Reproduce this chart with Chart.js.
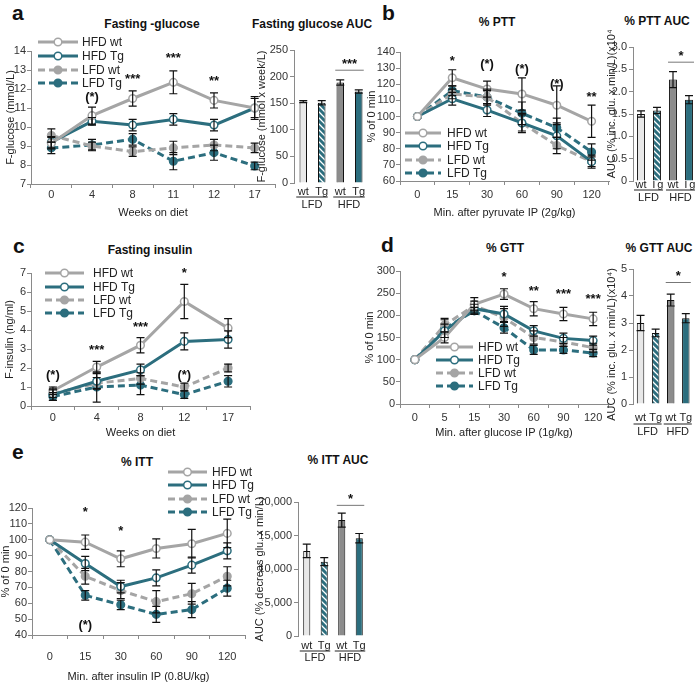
<!DOCTYPE html>
<html>
<head>
<meta charset="utf-8">
<script src="https://cdn.jsdelivr.net/npm/chart.js@4.4.1/dist/chart.umd.min.js"></script>
<style>
body { margin: 0; background: #fff; width: 700px; height: 685px; position: relative; overflow: hidden; font-family: "Liberation Sans", Arial, sans-serif; }
canvas { position: absolute; }
.lab { position: absolute; font-weight: bold; font-size: 21px; color: #111; line-height: 1; }
.ttl { position: absolute; font-weight: bold; font-size: 12px; color: #111; transform: translate(-50%, -50%); white-space: nowrap; }
</style>
</head>
<body>
<div class="lab" style="left:12px;top:2px">a</div>
<div class="ttl" style="left:152px;top:24px">Fasting -glucose</div>
<div class="ttl" style="left:312px;top:24px">Fasting glucose AUC</div>
<div class="lab" style="left:382px;top:2px">b</div>
<div class="ttl" style="left:497px;top:22px">% PTT</div>
<div class="ttl" style="left:657px;top:21px">% PTT AUC</div>
<div class="lab" style="left:13px;top:235px">c</div>
<div class="ttl" style="left:150px;top:250px">Fasting insulin</div>
<div class="lab" style="left:381px;top:234px">d</div>
<div class="ttl" style="left:505px;top:248px">% GTT</div>
<div class="ttl" style="left:659px;top:248px">% GTT AUC</div>
<div class="lab" style="left:12px;top:441px">e</div>
<div class="ttl" style="left:137px;top:462px">% ITT</div>
<div class="ttl" style="left:338px;top:460px">% ITT AUC</div>

<canvas id="glucLine"></canvas>
<canvas id="glucBar"></canvas>
<canvas id="pttLine"></canvas>
<canvas id="pttBar"></canvas>
<canvas id="insLine"></canvas>
<canvas id="gttLine"></canvas>
<canvas id="gttBar"></canvas>
<canvas id="ittLine"></canvas>
<canvas id="ittBar"></canvas>

<script>
var FONT = '"Liberation Sans", Arial, sans-serif';
var GRAY = '#a5a5a5';
var TEAL = '#2c6e7e';
var AXIS = '#8a8a8a';
var INK = '#222';

var seriesNames = ['HFD wt', 'HFD Tg', 'LFD wt', 'LFD Tg'];
var barLabels = ['wt', 'Tg', 'wt', 'Tg'];
var barGroups = ['LFD', 'HFD'];

// a - fasting glucose (mmol/L)
var glucWeeks = ['0', '4', '8', '11', '12', '17'];
var glucMean = [
    [9.15, 10.6, 11.5, 12.35, 11.4, 11.0],
    [9.2, 10.3, 10.1, 10.4, 10.1, 11.0],
    [9.55, 9.0, 8.7, 8.9, 9.05, 8.9],
    [8.9, 9.05, 9.35, 8.2, 8.65, 7.95]
];
var glucErr = [
    [0.3, 0.45, 0.4, 0.6, 0.4, 0.6],
    [0.3, 0.2, 0.3, 0.3, 0.3, 0.5],
    [0.35, 0.2, 0.25, 0.35, 0.3, 0.25],
    [0.3, 0.3, 0.3, 0.45, 0.4, 0.2]
];
var glucStars = [[1, 11.55, '(*)'], [2, 12.5, '***'], [3, 13.6, '***'], [4, 12.4, '**']];
var glucAuc = [153, 151, 189, 172];
var glucAucErr = [2, 4, 5, 3];
var glucAucSig = [2, 3, 212, '***'];

// b - pyruvate tolerance (% of 0 min)
var pttMin = ['0', '15', '30', '60', '90', '120'];
var pttMean = [
    [100, 124, 117, 114, 107, 97],
    [100, 111, 104, 96, 88, 72],
    [100, 114, 112, 96, 82, 72],
    [100, 116, 112, 102, 93, 78]
];
var pttErr = [
    [0, 5, 5, 10, 12, 10],
    [0, 4, 4, 6, 8, 4],
    [0, 3, 4, 5, 5, 3],
    [0, 3, 5, 7, 6, 5]
];
var pttStars = [[1, 134, '*'], [2, 132, '(*)'], [3, 129, '(*)'], [4, 120, '(*)'], [5, 112, '**']];
var pttAuc = [1.5, 1.58, 2.27, 1.82];
var pttAucErr = [0.07, 0.07, 0.18, 0.09];
var pttAucSig = [2, 3, 2.66, '*'];

// c - fasting insulin (ng/ml)
var insWeeks = ['0', '4', '8', '12', '17'];
var insMean = [
    [0.8, 2.05, 3.2, 5.5, 4.1],
    [0.6, 1.3, 1.9, 3.4, 3.5],
    [0.65, 1.2, 1.45, 1.0, 2.0],
    [0.5, 1.0, 1.1, 0.6, 1.3]
];
var insErr = [
    [0.2, 0.3, 0.4, 0.9, 0.5],
    [0.3, 0.4, 0.3, 0.45, 0.45],
    [0.2, 0.3, 0.3, 0.2, 0.2],
    [0.2, 0.8, 0.5, 0.2, 0.3]
];
var insStars = [[0, 1.6, '(*)'], [1, 2.95, '***'], [2, 4.15, '***'], [3, 7.0, '*'], [3, 1.6, '(*)']];

// d - glucose tolerance (% of 0 min)
var gttMin = ['0', '5', '15', '30', '60', '90', '120'];
var gttMean = [
    [100, 150, 225, 248, 215, 203, 192],
    [100, 165, 215, 203, 165, 148, 143],
    [100, 178, 222, 195, 150, 140, 127],
    [100, 170, 210, 172, 122, 122, 115]
];
var gttErr = [
    [0, 12, 15, 12, 16, 15, 15],
    [0, 15, 10, 17, 12, 12, 10],
    [0, 15, 10, 20, 15, 10, 10],
    [0, 20, 8, 12, 10, 8, 8]
];
var gttStars = [[3, 285, '*'], [4, 253, '**'], [5, 247, '***'], [6, 237, '***']];
var gttAuc = [3.0, 2.63, 3.85, 3.18];
var gttAucErr = [0.28, 0.14, 0.22, 0.17];
var gttAucSig = [2, 3, 4.5, '*'];

// e - insulin tolerance (% of 0 min)
var ittMin = ['0', '15', '30', '60', '90', '120'];
var ittMean = [
    [100, 98.5, 88, 94.5, 97.5, 104],
    [100, 85, 70.5, 76, 84, 93],
    [100, 77, 68, 61, 66, 77],
    [100, 65, 59, 53, 56, 69.5]
];
var ittErr = [
    [0, 4.5, 5, 6, 9, 9],
    [0, 4.5, 4, 5, 5, 5],
    [0, 5, 5, 7, 6.5, 6],
    [0, 3, 3, 5, 5, 5]
];
var ittStars = [[1, 117, '*'], [2, 105, '*'], [1, 46, '(*)']];
var ittAuc = [12700, 11100, 17300, 14600];
var ittAucErr = [1000, 600, 1050, 700];
var ittAucSig = [2, 3, 19500, '*'];

var seriesStyle = [
    {color: GRAY, dash: [], fill: '#fff'},
    {color: TEAL, dash: [], fill: '#fff'},
    {color: GRAY, dash: [7, 4], fill: GRAY},
    {color: TEAL, dash: [7, 4], fill: TEAL}
];

// 대각선 빗금 패턴 (LFD Tg 막대)
function hatch(color) {
    var c = document.createElement('canvas');
    c.width = 6; c.height = 6;
    var g = c.getContext('2d');
    g.fillStyle = color;
    g.fillRect(0, 0, 6, 6);
    g.strokeStyle = '#fff';
    g.lineWidth = 1.3;
    g.beginPath();
    g.moveTo(0, 0); g.lineTo(6, 6);
    g.moveTo(5, -1); g.lineTo(7, 1);
    g.moveTo(-1, 5); g.lineTo(1, 7);
    g.stroke();
    return g.createPattern(c, 'repeat');
}

function placeCanvas(id, b) {
    var cv = document.getElementById(id);
    cv.width = b.w; cv.height = b.h;
    cv.style.left = b.x + 'px'; cv.style.top = b.y + 'px';
    cv.style.width = b.w + 'px'; cv.style.height = b.h + 'px';
    return cv;
}

function whisker(ctx, x, y1, y2) {
    ctx.beginPath();
    ctx.moveTo(x, y1); ctx.lineTo(x, y2);
    ctx.moveTo(x - 4, y1); ctx.lineTo(x + 4, y1);
    ctx.moveTo(x - 4, y2); ctx.lineTo(x + 4, y2);
    ctx.stroke();
}

function drawYTitle(ctx, chart, p) {
    var ca = chart.chartArea;
    ctx.save();
    ctx.translate(p.yTitleX - p.box.x, (ca.top + ca.bottom) / 2 + (p.yTitleShift || 0));
    ctx.rotate(-Math.PI / 2);
    ctx.font = '11px ' + FONT;
    ctx.fillStyle = INK;
    ctx.textAlign = 'center';
    ctx.textBaseline = 'middle';
    ctx.fillText(p.yTitle, 0, 0);
    ctx.restore();
}

function lineExtras(p) {
    return {
        id: 'lineExtras',
        afterDatasetsDraw: function(chart) {
            var ctx = chart.ctx, ys = chart.scales.y;
            ctx.save();
            ctx.strokeStyle = '#111';
            ctx.lineWidth = 1.2;
            p.err.forEach(function(errs, k) {
                var meta = chart.getDatasetMeta(k);
                errs.forEach(function(e, j) {
                    if (!e) return;
                    var v = p.mean[k][j];
                    whisker(ctx, meta.data[j].x, ys.getPixelForValue(v + e), ys.getPixelForValue(v - e));
                });
            });
            ctx.restore();
        },
        afterDraw: function(chart) {
            var ctx = chart.ctx, xs = chart.scales.x, ys = chart.scales.y;
            ctx.save();
            // 유의성 표시
            ctx.font = 'bold 13px ' + FONT;
            ctx.fillStyle = '#111';
            ctx.textAlign = 'center';
            ctx.textBaseline = 'middle';
            p.stars.forEach(function(s) {
                ctx.fillText(s[2], xs.getPixelForValue(s[0]), ys.getPixelForValue(s[1]));
            });
            // 범례
            var L = p.legend;
            seriesNames.forEach(function(name, k) {
                var st = seriesStyle[k];
                var y = L.rows[k] - p.box.y, x1 = L.x1 - p.box.x, x2 = L.x2 - p.box.x;
                ctx.strokeStyle = st.color;
                ctx.lineWidth = 3;
                ctx.setLineDash(st.dash);
                ctx.beginPath();
                ctx.moveTo(x1, y); ctx.lineTo(x2, y);
                ctx.stroke();
                ctx.setLineDash([]);
                ctx.beginPath();
                ctx.arc((x1 + x2) / 2, y, 3.8, 0, Math.PI * 2);
                ctx.fillStyle = st.fill;
                ctx.fill();
                ctx.lineWidth = 1.5;
                ctx.stroke();
                ctx.font = '12px ' + FONT;
                ctx.fillStyle = INK;
                ctx.textAlign = 'left';
                ctx.fillText(name, L.tx - p.box.x, y + 0.5);
            });
            ctx.restore();
            drawYTitle(ctx, chart, p);
        }
    };
}

function linePanel(p) {
    var b = p.box, a = p.plot;
    var cv = placeCanvas(p.id, b);
    var datasets = p.mean.map(function(vals, k) {
        var st = seriesStyle[k];
        return {
            label: seriesNames[k],
            data: vals,
            borderColor: st.color,
            borderWidth: 3,
            borderDash: st.dash,
            pointRadius: 3.8,
            pointBorderWidth: 1.5,
            pointBorderColor: st.color,
            pointBackgroundColor: st.fill,
            tension: 0,
            fill: false
        };
    });
    var yw = a.l - b.x, xh = b.y + b.h - a.b;
    new Chart(cv, {
        type: 'line',
        data: {labels: p.labels, datasets: datasets},
        options: {
            responsive: false,
            animation: false,
            devicePixelRatio: 1,
            layout: {autoPadding: false, padding: {top: a.t - b.y, right: b.x + b.w - a.r, left: 0, bottom: 0}},
            plugins: {legend: {display: false}, tooltip: {enabled: false}},
            scales: {
                x: {
                    type: 'category',
                    offset: true,
                    grid: {offset: true, drawOnChartArea: false, tickLength: 4, color: AXIS},
                    border: {color: AXIS},
                    ticks: {color: '#333', font: {size: 11, family: FONT}, padding: p.labelY - a.b - 4 - 6.6, maxRotation: 0, autoSkip: false},
                    title: {display: true, text: p.xTitle, color: INK, font: {size: 11, family: FONT},
                            padding: {top: 0, bottom: (b.y + b.h) - p.xTitleY - 6.6}},
                    afterFit: function(s) { s.height = xh; }
                },
                y: {
                    min: p.yMin, max: p.yMax,
                    grid: {drawOnChartArea: false, tickLength: 4, color: AXIS},
                    border: {color: AXIS},
                    ticks: {stepSize: p.yStep, color: '#333', font: {size: 11, family: FONT}, padding: 1, autoSkip: false},
                    afterFit: function(s) { s.width = yw; }
                }
            }
        },
        plugins: [lineExtras(p)]
    });
}

function barExtras(p) {
    return {
        id: 'barExtras',
        afterDatasetsDraw: function(chart) {
            var ctx = chart.ctx, xs = chart.scales.x, ys = chart.scales.y;
            ctx.save();
            ctx.strokeStyle = '#111';
            ctx.lineWidth = 1.2;
            p.values.forEach(function(v, j) {
                whisker(ctx, xs.getPixelForValue(j), ys.getPixelForValue(v + p.err[j]), ys.getPixelForValue(v - p.err[j]));
            });
            // 유의성 선
            var s = p.sig;
            var sy = ys.getPixelForValue(s[2]);
            var sx1 = xs.getPixelForValue(s[0]) - 5, sx2 = xs.getPixelForValue(s[1]) + 5;
            ctx.strokeStyle = '#777';
            ctx.lineWidth = 1;
            ctx.beginPath();
            ctx.moveTo(sx1, sy); ctx.lineTo(sx2, sy);
            ctx.stroke();
            ctx.font = 'bold 13px ' + FONT;
            ctx.fillStyle = '#111';
            ctx.textAlign = 'center';
            ctx.textBaseline = 'middle';
            ctx.fillText(s[3], (sx1 + sx2) / 2, sy - 6);
            // 그룹 라벨
            barGroups.forEach(function(g, k) {
                var gx1 = xs.getPixelForValue(2 * k) - 7, gx2 = xs.getPixelForValue(2 * k + 1) + 6;
                var uy = p.ulY - p.box.y;
                ctx.strokeStyle = '#222';
                ctx.beginPath();
                ctx.moveTo(gx1, uy); ctx.lineTo(gx2, uy);
                ctx.stroke();
                ctx.font = '11px ' + FONT;
                ctx.fillStyle = INK;
                ctx.fillText(g, (gx1 + gx2) / 2, p.grpY - p.box.y);
            });
            ctx.restore();
            drawYTitle(ctx, chart, p);
        }
    };
}

function barPanel(p) {
    var b = p.box, a = p.plot;
    var cv = placeCanvas(p.id, b);
    var yw = a.l - b.x, xh = b.y + b.h - a.b;
    new Chart(cv, {
        type: 'bar',
        data: {
            labels: barLabels,
            datasets: [{
                data: p.values,
                backgroundColor: ['#e8e8e8', hatch(TEAL), '#8c8c8c', TEAL],
                borderColor: '#111',
                borderWidth: 1,
                barPercentage: p.barPct,
                categoryPercentage: 0.9
            }]
        },
        options: {
            responsive: false,
            animation: false,
            devicePixelRatio: 1,
            layout: {autoPadding: false, padding: {top: a.t - b.y, right: b.x + b.w - a.r, left: 0, bottom: 0}},
            plugins: {legend: {display: false}, tooltip: {enabled: false}},
            scales: {
                x: {
                    grid: {display: false, drawTicks: false},
                    border: {display: false},
                    ticks: {color: INK, font: {size: 11, family: FONT}, padding: p.labelY - a.b - 6.6, maxRotation: 0, autoSkip: false},
                    afterFit: function(s) { s.height = xh; }
                },
                y: {
                    min: 0, max: p.yMax,
                    grid: {drawOnChartArea: false, tickLength: 4, color: AXIS},
                    border: {color: AXIS},
                    ticks: {stepSize: p.yStep, color: '#333', font: {size: 11, family: FONT}, padding: 2, autoSkip: false, callback: p.tickFmt},
                    afterFit: function(s) { s.width = yw; }
                }
            }
        },
        plugins: [barExtras(p)]
    });
}

var legendA = {x1: 38, x2: 78, tx: 82, rows: [42, 56, 70, 83]};
var legendB = {x1: 405, x2: 441, tx: 447, rows: [133, 146, 160, 173]};
var legendC = {x1: 45, x2: 84, tx: 93, rows: [273, 287, 300, 313]};
var legendD = {x1: 436, x2: 473, tx: 478, rows: [347, 360, 373, 386]};
var legendE = {x1: 168, x2: 207, tx: 212, rows: [472, 485, 499, 512]};

linePanel({id: 'glucLine', box: {x: 0, y: 30, w: 282, h: 195}, plot: {l: 31, t: 51, r: 275, b: 184},
    labels: glucWeeks, mean: glucMean, err: glucErr, stars: glucStars, legend: legendA,
    yMin: 7, yMax: 14, yStep: 1, xTitle: 'Weeks on diet', labelY: 195, xTitleY: 213,
    yTitle: 'F-glucose (mmol/L)', yTitleX: 11});

linePanel({id: 'pttLine', box: {x: 362, y: 30, w: 250, h: 195}, plot: {l: 400, t: 52, r: 609, b: 181},
    labels: pttMin, mean: pttMean, err: pttErr, stars: pttStars, legend: legendB,
    yMin: 60, yMax: 140, yStep: 10, xTitle: 'Min. after pyruvate IP (2g/kg)', labelY: 195, xTitleY: 213,
    yTitle: '% of 0 min', yTitleX: 372});

linePanel({id: 'insLine', box: {x: 0, y: 255, w: 260, h: 185}, plot: {l: 31, t: 273, r: 250, b: 406},
    labels: insWeeks, mean: insMean, err: insErr, stars: insStars, legend: legendC,
    yMin: 0, yMax: 7, yStep: 1, xTitle: 'Weeks on diet', labelY: 418, xTitleY: 433,
    yTitle: 'F-insulin (ng/ml)', yTitleX: 10});

linePanel({id: 'gttLine', box: {x: 362, y: 255, w: 250, h: 185}, plot: {l: 400, t: 271, r: 608, b: 404},
    labels: gttMin, mean: gttMean, err: gttErr, stars: gttStars, legend: legendD,
    yMin: 0, yMax: 300, yStep: 50, xTitle: 'Min. after glucose IP (1g/kg)', labelY: 418, xTitleY: 433,
    yTitle: '% of 0 min', yTitleX: 370});

linePanel({id: 'ittLine', box: {x: 0, y: 455, w: 262, h: 230}, plot: {l: 32, t: 508, r: 245, b: 635},
    labels: ittMin, mean: ittMean, err: ittErr, stars: ittStars, legend: legendE,
    yMin: 40, yMax: 120, yStep: 10, xTitle: 'Min. after insulin IP (0.8U/kg)', labelY: 657, xTitleY: 677,
    yTitle: '% of 0 min', yTitleX: 6});

barPanel({id: 'glucBar', box: {x: 255, y: 30, w: 115, h: 185}, plot: {l: 294, t: 50, r: 368, b: 183},
    values: glucAuc, err: glucAucErr, sig: glucAucSig, yMax: 250, yStep: 50, barPct: 0.45,
    labelY: 192, ulY: 197, grpY: 205, yTitle: 'F-glucose (mmol x week/L)', yTitleX: 262});

barPanel({id: 'pttBar', box: {x: 605, y: 30, w: 95, h: 180}, plot: {l: 633, t: 47, r: 697, b: 181},
    values: pttAuc, err: pttAucErr, sig: pttAucSig, yMax: 3, yStep: 0.5, barPct: 0.55,
    tickFmt: function(v) { return v === 0 ? '0' : v.toFixed(1); },
    labelY: 185, ulY: 190, grpY: 198, yTitle: 'AUC (% inc. glu. x min/L)(x10\u2074)', yTitleX: 612, yTitleShift: -12});

barPanel({id: 'gttBar', box: {x: 605, y: 250, w: 95, h: 195}, plot: {l: 633, t: 269, r: 697, b: 404},
    values: gttAuc, err: gttAucErr, sig: gttAucSig, yMax: 5, yStep: 1, barPct: 0.55,
    labelY: 418, ulY: 424, grpY: 432, yTitle: 'AUC (% inc. glu. x min/L)(x10\u2074)', yTitleX: 612, yTitleShift: 8});

barPanel({id: 'ittBar', box: {x: 254, y: 480, w: 116, h: 205}, plot: {l: 298, t: 502, r: 368, b: 636},
    values: ittAuc, err: ittAucErr, sig: ittAucSig, yMax: 20000, yStep: 5000, barPct: 0.45,
    tickFmt: function(v) { return v.toLocaleString('en-US'); },
    labelY: 646, ulY: 651, grpY: 658, yTitle: 'AUC (% decreas glu. x min/L)', yTitleX: 260});
</script>
</body>
</html>
